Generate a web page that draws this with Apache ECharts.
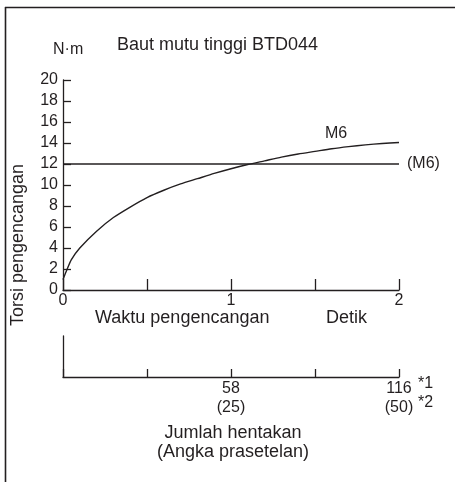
<!DOCTYPE html>
<html>
<head>
<meta charset="utf-8">
<script src="https://cdn.jsdelivr.net/npm/echarts@6/dist/echarts.min.js"></script>
<style>
html,body{margin:0;padding:0;background:#fff;}
#c{width:455px;height:482px;}
</style>
</head>
<body>
<div id="c"></div>
<script>
// Tightening time (s) vs torque (N·m), M6 curve
var timeValues = [0, 0.025, 0.05, 0.1, 0.2, 0.3, 0.4, 0.5, 0.6, 0.7, 0.8, 0.9, 1.0, 1.1, 1.2, 1.3, 1.4, 1.5, 1.6, 1.7, 1.8, 1.9, 2.0];
var torqueM6 = [1.0, 2.0, 2.9, 4.0, 5.6, 6.9, 7.9, 8.8, 9.5, 10.1, 10.6, 11.1, 11.55, 11.95, 12.3, 12.65, 12.95, 13.2, 13.45, 13.65, 13.82, 13.95, 14.05];
var refTorque = 12;           // (M6) reference level
var refRange = [0, 2];
var yTicks = [0, 2, 4, 6, 8, 10, 12, 14, 16, 18, 20];
var timeTickLabels = [0, 1, 2];
var strokeTicks = [0, 29, 58, 87, 116];
var strokeLabels = [58, 116];
var presetLabels = [25, 50];

var FONT = '"Liberation Sans", Arial, sans-serif';
var INK = '#231f20';

var curveData = timeValues.map(function (t, i) { return [t, torqueM6[i]]; });
var refData = refRange.map(function (t) { return [t, refTorque]; });

var chart = echarts.init(document.getElementById('c'), null, {renderer: 'canvas'});
chart.setOption({
  animation: false,
  backgroundColor: '#fff',
  textStyle: {fontFamily: FONT, color: INK},
  grid: [
    {left: 63, right: 56, top: 80, height: 210},
    {left: 63, right: 56, top: 336, height: 41}
  ],
  xAxis: [
    {
      gridIndex: 0, type: 'value', min: 0, max: 2, interval: 0.5,
      axisLine: {lineStyle: {color: INK, width: 1.3}},
      axisTick: {inside: true, length: 11, lineStyle: {color: INK, width: 1.3}},
      splitLine: {show: false},
      axisLabel: {
        margin: 3, fontSize: 16, color: INK, fontFamily: FONT,
        formatter: function (v) { return timeTickLabels.indexOf(v) >= 0 ? String(v) : ''; }
      }
    },
    {
      gridIndex: 1, type: 'value', min: 0, max: strokeTicks[strokeTicks.length - 1], interval: 29,
      axisLine: {lineStyle: {color: INK, width: 1.3}},
      axisTick: {inside: true, length: 8, lineStyle: {color: INK, width: 1.3}},
      splitLine: {show: false},
      axisLabel: {
        margin: 2, fontSize: 16, color: INK, fontFamily: FONT, lineHeight: 19,
        formatter: function (v) {
          var k = strokeLabels.indexOf(v);
          return k >= 0 ? v + '\n(' + presetLabels[k] + ')' : '';
        }
      }
    }
  ],
  yAxis: [
    {
      gridIndex: 0, type: 'value', min: 0, max: 20, interval: 2,
      axisLine: {show: true, lineStyle: {color: INK, width: 1.3}},
      axisTick: {show: true, inside: true, length: 8, lineStyle: {color: INK, width: 1.3}},
      splitLine: {show: false},
      axisLabel: {margin: 5, fontSize: 16, color: INK, fontFamily: FONT,
        formatter: function (v) { return yTicks.indexOf(v) >= 0 ? String(v) : ''; }}
    },
    {
      gridIndex: 1, type: 'value', min: 0, max: 1,
      axisLine: {show: true, lineStyle: {color: INK, width: 1.3}},
      axisTick: {show: false}, axisLabel: {show: false}, splitLine: {show: false}
    }
  ],
  series: [
    {
      type: 'line', xAxisIndex: 0, yAxisIndex: 0, data: curveData,
      smooth: 0.25, showSymbol: false, symbol: 'none',
      lineStyle: {color: INK, width: 1.4}
    },
    {
      type: 'line', xAxisIndex: 0, yAxisIndex: 0, data: refData,
      showSymbol: false, symbol: 'none',
      lineStyle: {color: INK, width: 1.3},
      endLabel: {show: true, formatter: '(M6)', distance: 8, fontSize: 16, color: INK, fontFamily: FONT}
    }
  ],
  graphic: [
    {type: 'line', shape: {x1: 5, y1: 7.5, x2: 455, y2: 7.5}, style: {stroke: INK, lineWidth: 1.6}},
    {type: 'line', shape: {x1: 5.5, y1: 7, x2: 5.5, y2: 482}, style: {stroke: INK, lineWidth: 1.6}},
    {type: 'text', x: 117, y: 45, style: {text: 'Baut mutu tinggi BTD044', font: '18px ' + FONT, fill: INK, verticalAlign: 'middle'}},
    {type: 'text', x: 53, y: 50, style: {text: 'N·m', font: '16px ' + FONT, fill: INK, verticalAlign: 'middle'}},
    {type: 'text', x: 325, y: 134, style: {text: 'M6', font: '16px ' + FONT, fill: INK, verticalAlign: 'middle'}},
    {type: 'text', x: 95, y: 318, style: {text: 'Waktu pengencangan', font: '18px ' + FONT, fill: INK, verticalAlign: 'middle'}},
    {type: 'text', x: 326, y: 318, style: {text: 'Detik', font: '18px ' + FONT, fill: INK, verticalAlign: 'middle'}},
    {type: 'text', x: 418, y: 384, style: {text: '*1', font: '16px ' + FONT, fill: INK, verticalAlign: 'middle'}},
    {type: 'text', x: 418, y: 403, style: {text: '*2', font: '16px ' + FONT, fill: INK, verticalAlign: 'middle'}},
    {type: 'text', x: 233, y: 433, style: {text: 'Jumlah hentakan', font: '18px ' + FONT, fill: INK, align: 'center', verticalAlign: 'middle'}},
    {type: 'text', x: 233, y: 452, style: {text: '(Angka prasetelan)', font: '18px ' + FONT, fill: INK, align: 'center', verticalAlign: 'middle'}},
    {type: 'text', x: 18, y: 245, rotation: Math.PI / 2, style: {text: 'Torsi pengencangan', font: '18px ' + FONT, fill: INK, align: 'center', verticalAlign: 'middle'}}
  ]
});
</script>
</body>
</html>
